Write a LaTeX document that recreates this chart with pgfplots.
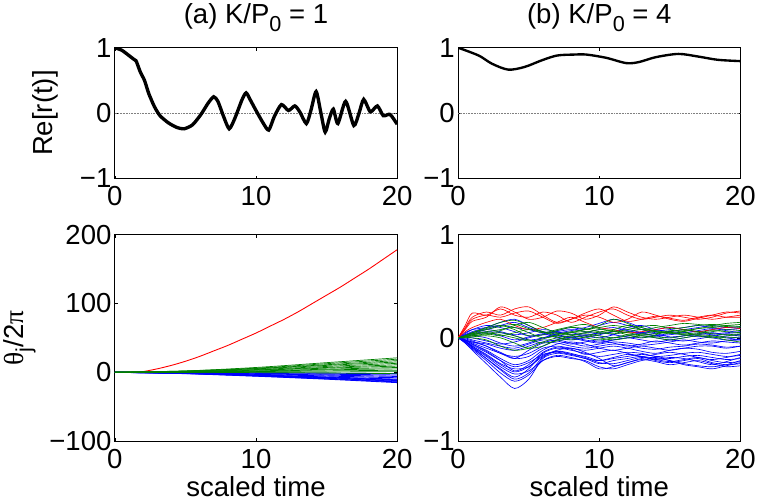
\documentclass[border=0pt]{standalone}
\usepackage{fontspec}
\setmainfont{Liberation Sans}
\newfontfamily\greek{Liberation Serif}
\usepackage{pgfplots}
\pgfplotsset{compat=1.18}
\definecolor{mgreen}{rgb}{0,0.5,0}
\newcommand\bigfont{\fontsize{28}{31}\selectfont}
\newcommand\sub[1]{\raisebox{-0.55ex}{\fontsize{22}{22}\selectfont #1}}

\pgfplotsset{
  mstyle/.style={
    scale only axis, width=287pt,
    xmin=0, xmax=20, xtick={0,10,20},
    tick align=inside, major tick length=3pt,
    axis line style={line width=0.8pt},
    tick style={line width=0.6pt, black},
    tick label style={font=\bigfont},
    xticklabel style={yshift=-4.5pt},
    label style={font=\bigfont},
    xlabel style={inner sep=4pt, yshift=-0.5pt},
    ylabel shift=7pt,
    title style={font=\bigfont, yshift=7pt},
    /pgf/number format/assume math mode=true,
  },
}

\begin{document}
\begin{tikzpicture}
% (a) top
\begin{axis}[mstyle, height=133pt, at={(0,267pt)},
  ymin=-1, ymax=1, ytick={-1,0,1}, yticklabels={−1,0,1},
  ylabel={Re[r(t)]}, ylabel shift=15pt, title={(a) K/P\sub{0} = 1}]
\addplot[gray, densely dotted, line width=0.6pt] coordinates {(0,0)(20,0)};
\addplot[black, line width=3.4pt, smooth, tension=0.4] coordinates {
  (0,1)(0.5,0.96)(1,0.88)(1.3,0.83)(1.5,0.8)(1.8,0.63)(2.1,0.5)(2.4,0.3)
  (2.8,0.1)(3.2,-0.04)(3.8,-0.15)(4.4,-0.22)(4.9,-0.24)(5.5,-0.18)(6.1,-0.02)
  (6.6,0.15)(7.0,0.25)(7.3,0.18)(7.7,-0.05)(8.1,-0.24)(8.5,-0.08)(9.0,0.2)
  (9.3,0.31)(9.6,0.2)(10.0,0.04)(10.5,-0.15)(10.9,-0.26)(11.3,-0.05)(11.8,0.13)
  (12.3,0.04)(12.75,0.11)(13.1,0.02)(13.57,-0.16)(13.9,0.05)(14.26,0.33)
  (14.6,0.0)(14.9,-0.29)(15.2,-0.08)(15.48,0.06)(15.8,-0.16)(16.35,0.18)
  (16.93,-0.19)(17.3,0.0)(17.63,0.21)(18.1,0.02)(18.6,0.11)(19.02,-0.04)
  (19.5,-0.02)(20,-0.17)
};
\end{axis}

% (b) top
\begin{axis}[mstyle, height=133pt, at={(349pt,267pt)},
  ymin=-1, ymax=1, ytick={-1,0,1}, yticklabels={−1,0,1},
  title={(b) K/P\sub{0} = 4}]
\addplot[gray, densely dotted, line width=0.6pt] coordinates {(0,0)(20,0)};
\addplot[black, line width=2.4pt, smooth] coordinates {
  (0,1)(1.46,0.88)(2.4,0.755)(3.55,0.665)(4.7,0.705)(5.9,0.805)(7.0,0.88)
  (8.2,0.895)(9.1,0.895)(10.5,0.845)(11.9,0.765)(12.8,0.78)(14.0,0.855)
  (15.6,0.905)(17.0,0.865)(18.4,0.815)(20,0.795)
};
\end{axis}

% (a) bottom
\begin{axis}[mstyle, height=210pt, at={(0,0)},
  ymin=-100, ymax=200, ytick={-100,0,100,200}, yticklabels={−100,0,100,200},
  xlabel={scaled time},
  ylabel={{\greek θ}\sub{j}/2{\greek π}}]
\addplot[red, line width=0.9pt, smooth] coordinates {
  (0,0)(1.5,0)(2,1)(3,5)(4,10)(5,16)(6,23)(7,31)(8,39)(9,48)(10,57)(11,67)
  (12,77)(13,88)(14,100)(15,112)(16,124)(17,137)(18,150)(19,164)(20,178)
};
\addplot[blue, line width=0.9pt, smooth] coordinates {(0,0)(5,-0.2)(10,-0.7)(15,-1.3)(20,-2)};
\addplot[blue, line width=0.9pt, smooth] coordinates {(0,0)(5,-0.5)(10,-1.5)(15,-2.7)(20,-4)};
\addplot[blue, line width=0.9pt, smooth] coordinates {(0,0)(5,-0.8)(10,-2.2)(15,-4)(20,-6)};
\addplot[blue, line width=0.9pt, smooth] coordinates {(0,0)(5,-1)(10,-3)(15,-5.4)(20,-8)};
\addplot[blue, line width=0.9pt, smooth] coordinates {(0,0)(5,-1.3)(10,-3.8)(15,-6.8)(20,-10)};
\addplot[blue, line width=0.9pt, smooth] coordinates {(0,0)(5,-1.4)(10,-4.2)(15,-7.4)(20,-11)};
\addplot[blue, line width=0.9pt, smooth] coordinates {(0,0)(5,-1.5)(10,-4.5)(15,-8)(20,-12)};
\addplot[blue, line width=0.9pt, smooth] coordinates {(0,0)(5,-1.6)(10,-4.9)(15,-8.7)(20,-13)};
\addplot[blue, line width=0.9pt, smooth] coordinates {(0,0)(5,-1.8)(10,-5.3)(15,-9.4)(20,-14)};
\addplot[blue, line width=0.9pt, smooth] coordinates {(0,0)(5,-2)(10,-5.7)(15,-10)(20,-15)};
\addplot[mgreen, line width=0.7pt, smooth] coordinates {(0,0)(5,2)(10,7)(15,14)(20,21)};
\addplot[mgreen, line width=0.7pt, smooth] coordinates {(0,0)(5,2)(10,6)(15,12.5)(20,19)};
\addplot[mgreen, line width=0.7pt, smooth] coordinates {(0,0)(5,1.5)(10,5.5)(15,11)(20,17)};
\addplot[mgreen, line width=0.7pt, smooth] coordinates {(0,0)(5,1.5)(10,5)(15,10)(20,15)};
\addplot[mgreen, line width=0.7pt, smooth] coordinates {(0,0)(5,1)(10,4)(15,8.5)(20,13)};
\addplot[mgreen, line width=0.7pt, smooth] coordinates {(0,0)(5,1)(10,3.5)(15,7)(20,11)};
\addplot[mgreen, line width=0.7pt, smooth] coordinates {(0,0)(5,0.5)(10,3)(15,6)(20,9)};
\addplot[mgreen, line width=0.7pt, smooth] coordinates {(0,0)(5,0.5)(10,2)(15,4.5)(20,7)};
\addplot[mgreen, line width=0.7pt, smooth] coordinates {(0,0)(5,0.5)(10,1.5)(15,3.5)(20,5)};
\addplot[mgreen, line width=0.7pt, smooth] coordinates {(0,0)(5,0)(10,1)(15,2)(20,3)};
\addplot[mgreen, line width=0.7pt, smooth] coordinates {(0,0)(5,0)(10,0.5)(15,0.5)(20,1)};
\addplot[mgreen, line width=0.7pt, smooth] coordinates {(0,0)(5,0)(10,-0.5)(15,-1)(20,-2)};
\end{axis}

% (b) bottom
\begin{axis}[mstyle, height=210pt, at={(349pt,0)},
  ymin=-1, ymax=1, ytick={-1,0,1}, yticklabels={−1,0,1},
  xlabel={scaled time},
  every axis plot/.append style={line width=0.65pt, smooth}]
% blue
\addplot[blue] coordinates {(0,0)(0.5,0.05)(1,0.08)(2,0.10)(3,0.12)(4,0.10)(5,0.08)(6,0.05)(7,0.07)(8,0.10)(9,0.08)(10,0.12)(11,0.15)(12,0.12)(13,0.08)(14,0.05)(15,0.06)(16,0.08)(17,0.10)(18,0.12)(19,0.10)(20,0.11)};
\addplot[blue] coordinates {(0,0)(0.5,0.02)(1,0.04)(2,0.06)(3,0.05)(4,0.02)(5,-0.02)(6,0.00)(7,0.04)(8,0.05)(9,0.02)(10,0.00)(11,0.03)(12,0.06)(13,0.04)(14,0.02)(15,0.03)(16,0.05)(17,0.06)(18,0.04)(19,0.05)(20,0.06)};
\addplot[blue] coordinates {(0,0)(0.5,-0.02)(1,-0.05)(2,-0.10)(3,-0.15)(4,-0.20)(5,-0.12)(6,-0.05)(7,-0.02)(8,-0.05)(9,-0.08)(10,-0.06)(11,-0.04)(12,-0.05)(13,-0.07)(14,-0.06)(15,-0.04)(16,-0.02)(17,-0.04)(18,-0.05)(19,-0.03)(20,-0.02)};
\addplot[blue] coordinates {(0,0)(0.5,-0.04)(1,-0.10)(2,-0.20)(3,-0.30)(4,-0.38)(5,-0.30)(6,-0.15)(7,-0.10)(8,-0.12)(9,-0.15)(10,-0.18)(11,-0.16)(12,-0.14)(13,-0.15)(14,-0.18)(15,-0.17)(16,-0.15)(17,-0.14)(18,-0.16)(19,-0.18)(20,-0.17)};
\addplot[blue] coordinates {(0,0)(0.5,-0.05)(1,-0.12)(2,-0.25)(3,-0.38)(4,-0.49)(5,-0.40)(6,-0.20)(7,-0.15)(8,-0.17)(9,-0.20)(10,-0.25)(11,-0.22)(12,-0.20)(13,-0.18)(14,-0.22)(15,-0.24)(16,-0.22)(17,-0.20)(18,-0.24)(19,-0.26)(20,-0.25)};
\addplot[blue] coordinates {(0,0)(0.5,-0.03)(1,-0.08)(2,-0.16)(3,-0.25)(4,-0.30)(5,-0.28)(6,-0.18)(7,-0.12)(8,-0.10)(9,-0.14)(10,-0.20)(11,-0.27)(12,-0.24)(13,-0.20)(14,-0.19)(15,-0.22)(16,-0.25)(17,-0.27)(18,-0.28)(19,-0.26)(20,-0.22)};
\addplot[blue] coordinates {(0,0)(0.5,0.03)(1,0.06)(2,0.10)(3,0.15)(4,0.18)(5,0.12)(6,0.05)(7,0.00)(8,-0.02)(9,0.00)(10,0.03)(11,0.06)(12,0.08)(13,0.05)(14,0.02)(15,0.00)(16,0.02)(17,0.04)(18,0.03)(19,0.01)(20,0.00)};
\addplot[blue] coordinates {(0,0)(0.5,-0.01)(1,-0.03)(2,-0.08)(3,-0.14)(4,-0.20)(5,-0.18)(6,-0.10)(7,-0.08)(8,-0.10)(9,-0.12)(10,-0.10)(11,-0.08)(12,-0.10)(13,-0.13)(14,-0.15)(15,-0.12)(16,-0.10)(17,-0.11)(18,-0.14)(19,-0.15)(20,-0.13)};
\addplot[blue] coordinates {(0,0)(0.5,0.01)(1,0.02)(2,0.00)(3,-0.05)(4,-0.08)(5,-0.05)(6,0.00)(7,0.02)(8,0.00)(9,-0.03)(10,-0.05)(11,-0.02)(12,0.00)(13,-0.02)(14,-0.04)(15,-0.02)(16,0.00)(17,0.02)(18,0.00)(19,-0.02)(20,-0.01)};
\addplot[blue] coordinates {(0,0)(0.5,-0.04)(1,-0.09)(2,-0.18)(3,-0.28)(4,-0.35)(5,-0.32)(6,-0.22)(7,-0.18)(8,-0.20)(9,-0.22)(10,-0.28)(11,-0.30)(12,-0.26)(13,-0.22)(14,-0.20)(15,-0.22)(16,-0.26)(17,-0.28)(18,-0.30)(19,-0.27)(20,-0.24)};
\addplot[blue] coordinates {(0,0)(0.5,0.02)(1,0.05)(2,0.08)(3,0.06)(4,0.03)(5,0.05)(6,0.08)(7,0.06)(8,0.03)(9,0.05)(10,0.08)(11,0.10)(12,0.07)(13,0.05)(14,0.08)(15,0.10)(16,0.08)(17,0.06)(18,0.08)(19,0.10)(20,0.09)};
\addplot[blue] coordinates {(0,0)(0.5,-0.02)(1,-0.06)(2,-0.12)(3,-0.20)(4,-0.26)(5,-0.22)(6,-0.12)(7,-0.06)(8,-0.04)(9,-0.06)(10,-0.10)(11,-0.12)(12,-0.10)(13,-0.08)(14,-0.10)(15,-0.12)(16,-0.10)(17,-0.08)(18,-0.08)(19,-0.10)(20,-0.08)};
\addplot[blue] coordinates {(0,0)(0.5,0.04)(1,0.08)(2,0.12)(3,0.10)(4,0.06)(5,0.02)(6,0.03)(7,0.06)(8,0.08)(9,0.06)(10,0.04)(11,0.06)(12,0.10)(13,0.12)(14,0.08)(15,0.06)(16,0.05)(17,0.07)(18,0.09)(19,0.07)(20,0.05)};
\addplot[blue] coordinates {(0,0)(0.5,-0.03)(1,-0.07)(2,-0.14)(3,-0.22)(4,-0.28)(5,-0.24)(6,-0.16)(7,-0.14)(8,-0.16)(9,-0.18)(10,-0.22)(11,-0.20)(12,-0.18)(13,-0.16)(14,-0.18)(15,-0.20)(16,-0.18)(17,-0.17)(18,-0.19)(19,-0.21)(20,-0.20)};
\addplot[blue] coordinates {(0,0)(0.5,-0.02)(1,-0.04)(2,-0.06)(3,-0.10)(4,-0.12)(5,-0.08)(6,-0.04)(7,-0.05)(8,-0.08)(9,-0.10)(10,-0.08)(11,-0.06)(12,-0.07)(13,-0.10)(14,-0.11)(15,-0.09)(16,-0.08)(17,-0.06)(18,-0.07)(19,-0.09)(20,-0.08)};
\addplot[blue] coordinates {(0,0)(0.5,0.00)(1,-0.02)(2,-0.05)(3,-0.08)(4,-0.10)(5,-0.06)(6,-0.02)(7,-0.03)(8,-0.06)(9,-0.04)(10,-0.02)(11,-0.05)(12,-0.08)(13,-0.06)(14,-0.03)(15,-0.05)(16,-0.07)(17,-0.05)(18,-0.03)(19,-0.04)(20,-0.05)};
\addplot[blue] coordinates {(0,0)(0.5,-0.05)(1,-0.11)(2,-0.22)(3,-0.34)(4,-0.42)(5,-0.36)(6,-0.22)(7,-0.17)(8,-0.19)(9,-0.23)(10,-0.30)(11,-0.28)(12,-0.24)(13,-0.21)(14,-0.23)(15,-0.26)(16,-0.24)(17,-0.22)(18,-0.25)(19,-0.28)(20,-0.27)};
\addplot[blue] coordinates {(0,0)(0.5,0.03)(1,0.05)(2,0.08)(3,0.12)(4,0.15)(5,0.10)(6,0.06)(7,0.05)(8,0.07)(9,0.10)(10,0.14)(11,0.18)(12,0.15)(13,0.10)(14,0.07)(15,0.08)(16,0.10)(17,0.12)(18,0.10)(19,0.08)(20,0.09)};
\addplot[blue] coordinates {(0,0)(0.5,-0.02)(1,-0.04)(2,-0.08)(3,-0.15)(4,-0.18)(5,-0.15)(6,-0.08)(7,-0.02)(8,0.00)(9,-0.02)(10,-0.04)(11,-0.02)(12,0.00)(13,0.02)(14,0.00)(15,-0.02)(16,-0.03)(17,-0.01)(18,0.01)(19,0.00)(20,-0.02)};
\addplot[blue] coordinates {(0,0)(0.5,0.01)(1,0.00)(2,-0.03)(3,-0.06)(4,-0.04)(5,0.00)(6,0.03)(7,0.02)(8,0.00)(9,0.02)(10,0.05)(11,0.03)(12,0.01)(13,0.00)(14,0.02)(15,0.04)(16,0.03)(17,0.01)(18,0.02)(19,0.04)(20,0.03)};
\addplot[blue] coordinates {(0,0)(0.5,-0.03)(1,-0.09)(2,-0.20)(3,-0.31)(4,-0.40)(5,-0.34)(6,-0.19)(7,-0.13)(8,-0.15)(9,-0.19)(10,-0.24)(11,-0.25)(12,-0.22)(13,-0.19)(14,-0.21)(15,-0.23)(16,-0.21)(17,-0.19)(18,-0.22)(19,-0.24)(20,-0.23)};
\addplot[blue] coordinates {(0,0)(0.5,-0.02)(1,-0.06)(2,-0.13)(3,-0.22)(4,-0.32)(5,-0.26)(6,-0.14)(7,-0.09)(8,-0.11)(9,-0.16)(10,-0.14)(11,-0.12)(12,-0.15)(13,-0.18)(14,-0.16)(15,-0.14)(16,-0.16)(17,-0.19)(18,-0.21)(19,-0.19)(20,-0.16)};
\addplot[blue] coordinates {(0,0)(0.5,0.02)(1,0.03)(2,0.05)(3,0.02)(4,-0.02)(5,0.01)(6,0.04)(7,0.03)(8,0.01)(9,0.03)(10,0.02)(11,0.00)(12,0.02)(13,0.05)(14,0.04)(15,0.01)(16,0.02)(17,0.03)(18,0.05)(19,0.03)(20,0.02)};
\addplot[blue] coordinates {(0,0)(0.5,-0.04)(1,-0.08)(2,-0.17)(3,-0.26)(4,-0.33)(5,-0.28)(6,-0.17)(7,-0.13)(8,-0.16)(9,-0.20)(10,-0.22)(11,-0.19)(12,-0.16)(13,-0.18)(14,-0.21)(15,-0.19)(16,-0.20)(17,-0.23)(18,-0.26)(19,-0.23)(20,-0.19)};
% red
\addplot[red] coordinates {(0,0)(0.5,0.12)(1,0.24)(2,0.22)(3,0.28)(4,0.22)(5,0.20)(6,0.25)(7,0.22)(8,0.15)(9,0.20)(10,0.25)(11,0.28)(12,0.22)(13,0.18)(14,0.20)(15,0.22)(16,0.20)(17,0.18)(18,0.20)(19,0.24)(20,0.26)};
\addplot[red] coordinates {(0,0)(0.5,0.10)(1,0.20)(2,0.25)(3,0.22)(4,0.28)(5,0.30)(6,0.22)(7,0.15)(8,0.18)(9,0.22)(10,0.20)(11,0.15)(12,0.18)(13,0.25)(14,0.22)(15,0.18)(16,0.16)(17,0.19)(18,0.22)(19,0.25)(20,0.24)};
\addplot[red] coordinates {(0,0)(0.5,0.08)(1,0.16)(2,0.20)(3,0.30)(4,0.25)(5,0.18)(6,0.20)(7,0.26)(8,0.24)(9,0.18)(10,0.22)(11,0.30)(12,0.25)(13,0.20)(14,0.18)(15,0.20)(16,0.22)(17,0.20)(18,0.18)(19,0.20)(20,0.22)};
\addplot[red] coordinates {(0,0)(0.5,0.06)(1,0.10)(2,0.15)(3,0.18)(4,0.12)(5,0.08)(6,0.10)(7,0.15)(8,0.20)(9,0.15)(10,0.10)(11,0.08)(12,0.05)(13,0.06)(14,0.08)(15,0.10)(16,0.08)(17,0.06)(18,0.08)(19,0.10)(20,0.09)};
\addplot[red] coordinates {(0,0)(0.5,0.09)(1,0.18)(2,0.22)(3,0.20)(4,0.24)(5,0.26)(6,0.20)(7,0.14)(8,0.18)(9,0.24)(10,0.28)(11,0.22)(12,0.16)(13,0.18)(14,0.21)(15,0.19)(16,0.17)(17,0.20)(18,0.22)(19,0.20)(20,0.20)};
% green
\addplot[mgreen] coordinates {(0,0)(0.5,0.02)(1,0.05)(2,0.10)(3,0.15)(4,0.17)(5,0.12)(6,0.06)(7,0.04)(8,0.06)(9,0.08)(10,0.10)(11,0.12)(12,0.10)(13,0.08)(14,0.10)(15,0.12)(16,0.14)(17,0.13)(18,0.12)(19,0.14)(20,0.15)};
\addplot[mgreen] coordinates {(0,0)(0.5,0.01)(1,0.03)(2,0.06)(3,0.08)(4,0.10)(5,0.05)(6,0.00)(7,0.02)(8,0.05)(9,0.08)(10,0.12)(11,0.18)(12,0.14)(13,0.08)(14,0.06)(15,0.05)(16,0.07)(17,0.09)(18,0.11)(19,0.12)(20,0.13)};
\addplot[mgreen] coordinates {(0,0)(0.5,0.00)(1,0.01)(2,0.02)(3,0.00)(4,-0.05)(5,-0.10)(6,-0.08)(7,-0.02)(8,0.02)(9,0.04)(10,0.02)(11,0.00)(12,0.02)(13,0.04)(14,0.06)(15,0.05)(16,0.03)(17,0.04)(18,0.06)(19,0.08)(20,0.07)};
\addplot[mgreen] coordinates {(0,0)(0.5,0.02)(1,0.04)(2,0.05)(3,0.03)(4,0.00)(5,-0.03)(6,-0.01)(7,0.03)(8,0.05)(9,0.06)(10,0.05)(11,0.04)(12,0.06)(13,0.08)(14,0.07)(15,0.05)(16,0.04)(17,0.05)(18,0.07)(19,0.06)(20,0.05)};
\addplot[mgreen] coordinates {(0,0)(0.5,0.01)(1,0.02)(2,0.04)(3,0.07)(4,0.12)(5,0.15)(6,0.10)(7,0.05)(8,0.03)(9,0.05)(10,0.08)(11,0.07)(12,0.05)(13,0.03)(14,0.04)(15,0.06)(16,0.08)(17,0.06)(18,0.04)(19,0.03)(20,0.04)};
\addplot[mgreen] coordinates {(0,0)(0.5,0.00)(1,0.00)(2,-0.02)(3,-0.08)(4,-0.12)(5,-0.10)(6,-0.04)(7,0.00)(8,0.02)(9,0.00)(10,-0.02)(11,0.00)(12,0.03)(13,0.02)(14,0.00)(15,-0.02)(16,0.00)(17,0.02)(18,0.01)(19,-0.02)(20,-0.04)};
\addplot[mgreen] coordinates {(0,0)(0.5,0.02)(1,0.05)(2,0.09)(3,0.12)(4,0.08)(5,0.02)(6,0.03)(7,0.07)(8,0.10)(9,0.09)(10,0.06)(11,0.08)(12,0.12)(13,0.10)(14,0.06)(15,0.04)(16,0.06)(17,0.09)(18,0.10)(19,0.11)(20,0.10)};
\addplot[mgreen] coordinates {(0,0)(0.5,0.01)(1,0.02)(2,0.03)(3,0.05)(4,0.02)(5,-0.02)(6,-0.05)(7,-0.03)(8,0.00)(9,0.02)(10,0.00)(11,-0.02)(12,0.00)(13,0.02)(14,0.01)(15,0.00)(16,0.02)(17,0.03)(18,0.02)(19,0.00)(20,0.01)};
\addplot[mgreen] coordinates {(0,0)(0.5,0.02)(1,0.04)(2,0.08)(3,0.11)(4,0.13)(5,0.09)(6,0.05)(7,0.08)(8,0.11)(9,0.13)(10,0.09)(11,0.06)(12,0.08)(13,0.11)(14,0.12)(15,0.09)(16,0.10)(17,0.12)(18,0.13)(19,0.12)(20,0.11)};
\addplot[mgreen] coordinates {(0,0)(0.5,0.01)(1,0.03)(2,0.04)(3,0.02)(4,0.05)(5,0.08)(6,0.06)(7,0.01)(8,-0.02)(9,0.01)(10,0.04)(11,0.06)(12,0.03)(13,0.00)(14,0.03)(15,0.07)(16,0.06)(17,0.02)(18,0.00)(19,0.02)(20,0.03)};
\end{axis}
\end{tikzpicture}
\end{document}
